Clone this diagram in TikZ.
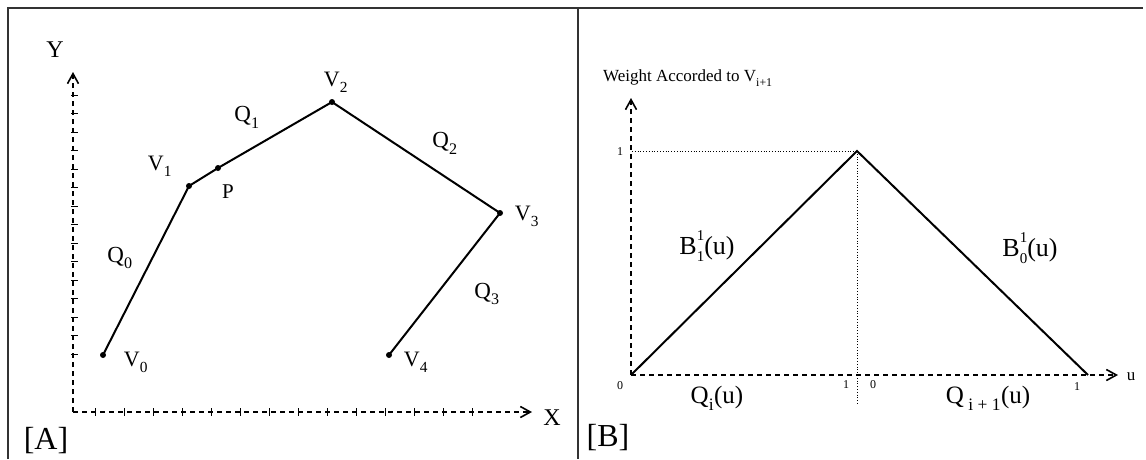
\documentclass[tikz,border=0pt]{standalone}
\usepackage{fontspec}
\setmainfont{Liberation Serif}
\usetikzlibrary{arrows.meta}
\newcommand{\fs}[1]{\fontsize{#1}{#1}\selectfont}
\newcommand{\lowsub}[1]{\raisebox{-0.3ex}{\textsubscript{#1}}}
\newcommand{\supsub}[2]{\makebox[0pt][l]{\raisebox{14pt}{\fs{15}#1}}\raisebox{-7pt}{\fs{15}#2}}
\begin{document}
\begin{tikzpicture}[x=1pt,y=-1pt,
  vtx/.style={circle,fill,inner sep=0pt,minimum size=6pt},
  lbl/.style={inner sep=0pt,font=\fs{22}},
  qlbl/.style={inner sep=0pt,font=\fs{23}},
  blbl/.style={inner sep=0pt,font=\fs{26}},
  num/.style={inner sep=0pt,font=\fs{12}},
  seg/.style={line width=2pt},
  axisline/.style={line width=1.6pt,dash pattern=on 5pt off 4pt,-{Straight Barb[length=10pt,width=11pt,line width=1.6pt]}},
  tickmark/.style={line width=1pt},
  guide/.style={line width=0.8pt,dotted},
  frameline/.style={line width=1.2pt,draw=black!80}]
\useasboundingbox (0,0) rectangle (1146,459);
\fill[white] (0,0) rectangle (1146,459);
% frames
\draw[frameline] (8,459) -- (8,8) -- (1143,8);
\draw[frameline] (578,8) -- (578,459);

% ---------- Panel A ----------
\coordinate (oA) at (73,412);
\coordinate (yA) at (73,72);
\coordinate (xA) at (532,412);
\draw[axisline] (oA) -- (yA);
\draw[axisline] (oA) -- (xA);
\foreach \t in {95,113.5,...,372} \draw[tickmark] (71,\t) -- (78,\t);
\foreach \t in {95,124,...,500} \draw[tickmark] (\t,408) -- (\t,416);
\node[lbl,font=\fs{24}] (Ylab) at (55,50) {Y};
\node[lbl,font=\fs{24}] (Xlab) at (552,418) {X};
\node[inner sep=0pt,font=\fs{32}] (Atag) at (46,441) {[A]};

\node[vtx] (V0) at (103,355) {};
\node[vtx] (V1) at (189,186) {};
\node[vtx] (P)  at (218,168) {};
\node[vtx] (V2) at (332,102) {};
\node[vtx] (V3) at (500,213) {};
\node[vtx] (V4) at (389,355) {};
\draw[seg] (V0.center) -- (V1.center) -- (P.center) -- (V2.center) -- (V3.center) -- (V4.center);

\node[lbl] (V0l) at (136,362) {V\lowsub{0}};
\node[lbl] (V1l) at (160,166) {V\lowsub{1}};
\node[lbl,font=\fs{21}] (Pl) at (228,192) {P};
\node[lbl] (V2l) at (336,82) {V\lowsub{2}};
\node[lbl] (V3l) at (527,216) {V\lowsub{3}};
\node[lbl] (V4l) at (416,362) {V\lowsub{4}};
\node[qlbl] (Q0l) at (120,258) {Q\lowsub{0}};
\node[qlbl] (Q1l) at (247,117) {Q\lowsub{1}};
\node[qlbl] (Q2l) at (445,143) {Q\lowsub{2}};
\node[qlbl] (Q3l) at (487,294) {Q\lowsub{3}};

% ---------- Panel B ----------
\coordinate (oB) at (631,375);
\coordinate (yB) at (631,98);
\coordinate (xB) at (1118,375);
\draw[axisline] (oB) -- (yB);
\draw[axisline] (oB) -- (xB);
\node[inner sep=0pt,anchor=west,font=\fs{17}] (Wlab) at (603,78) {Weight Accorded to V\lowsub{i+1}};
\node[inner sep=0pt,font=\fs{17}] (ulab) at (1131,377) {u};
\node[inner sep=0pt,font=\fs{32}] (Btag) at (608,438) {[B]};

\coordinate (peak) at (857,151);
\coordinate (endB) at (1088,375);
\coordinate (left1) at (632,151);
\coordinate (foot) at (857,405);
\draw[guide] (left1) -- (peak);
\draw[guide] (peak) -- (foot);
\draw[seg] (oB) -- (peak) -- (endB);

\node[num] (one) at (620,152) {1};
\node[num] (z0) at (620,386) {0};
\node[num] (u1) at (846,385) {1};
\node[num] (z1) at (873,385) {0};
\node[num] (u2) at (1077,387) {1};

\node[blbl] (B1) at (707,246) {B\supsub{1}{1}(u)};
\node[blbl] (B0) at (1030,248) {B\supsub{1}{0}(u)};
\node[blbl,font=\fs{25}] (Qi) at (717,398) {Q\lowsub{i}(u)};
\node[blbl,font=\fs{25}] (Qi1) at (988,398) {Q\lowsub{ i + 1}(u)};
\end{tikzpicture}
\end{document}
